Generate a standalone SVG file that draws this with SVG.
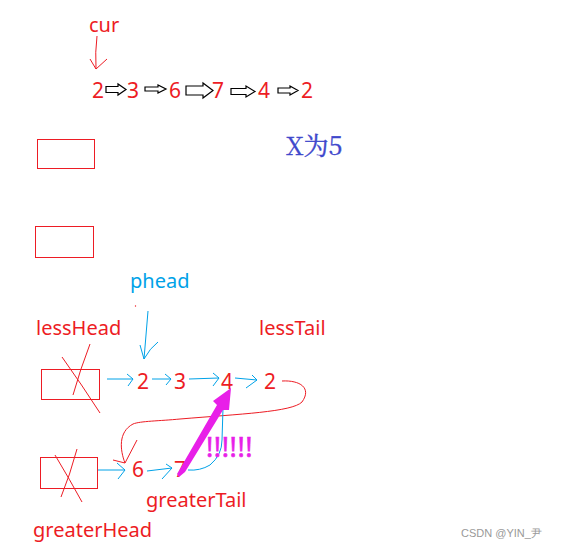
<svg xmlns="http://www.w3.org/2000/svg" width="563" height="548" viewBox="0 0 563 548">
<style>
.t{font-family:"Noto Sans","Liberation Sans",sans-serif;font-size:20px;fill:#ed1c24}
.n{font-family:"Noto Sans","Liberation Sans",sans-serif;font-size:21px;fill:#ed1c24}
.b{font-family:"Noto Sans","Liberation Sans",sans-serif;font-size:20px;fill:#00a2e8}
.blk{fill:#fff;stroke:#000;stroke-width:1.2}
.box{fill:none;stroke:#ed1c24;stroke-width:1}
.rl{fill:none;stroke:#ed1c24;stroke-width:1}
.bl{fill:none;stroke:#00a2e8;stroke-width:1}
</style>
<rect width="563" height="548" fill="#fff"/>

<g id="cur">
<text class="t" x="89" y="32">cur</text>
<path class="rl" d="M97,36 Q95,52 96,69 M90,59 L96,69 L107,59"/>
</g>

<g id="list-top">
<text class="n" x="92" y="98">2</text>
<text class="n" x="127" y="98">3</text>
<text class="n" x="169" y="98">6</text>
<text class="n" x="212" y="98">7</text>
<text class="n" x="258" y="98">4</text>
<text class="n" x="301" y="98">2</text>
<polygon class="blk" points="106,86.5 118,86.5 118,84 126,89.5 118,95 118,92.5 106,92.5"/>
<polygon class="blk" points="145,87 158,87 158,85 166,89 158,93 158,91 145,91"/>
<polygon class="blk" points="186,86 203,86 203,83 213,90.5 203,98 203,95 186,95"/>
<polygon class="blk" points="231,88.5 246,88.5 246,86 255,91.5 246,97 246,94.5 231,94.5"/>
<polygon class="blk" points="278,88 290,88 290,86 298,90.5 290,95 290,93 278,93"/>
</g>

<g id="box1"><rect class="box" x="37.5" y="139.5" width="57" height="29"/></g>
<g id="box2"><rect class="box" x="35.5" y="226.5" width="58" height="31"/></g>

<g id="xlabel">
<text x="286" y="155" font-family="'Noto Serif CJK SC','DejaVu Serif','Liberation Serif',serif" font-size="25" fill="#3f48cc" stroke="#3f48cc" stroke-width="0.4">X为5</text>
</g>

<g id="phead">
<text class="b" x="130" y="288">phead</text>
<path class="bl" d="M148,311 Q146,335 144,359 M140,345 L144,359 Q150,348 158,342"/>
<circle cx="135.5" cy="306" r="0.7" fill="#ed1c24"/>
</g>

<g id="lessHead">
<text class="t" x="36" y="335">lessHead</text>
<rect class="box" x="41.5" y="369.5" width="58" height="30"/>
<path class="rl" d="M90,344 Q80,370 73,395 M62,357 Q82,385 100,413"/>
</g>

<g id="lessTail"><text class="t" x="259" y="335">lessTail</text></g>

<g id="list-less">
<text class="n" x="137" y="389">2</text>
<text class="n" x="174" y="389">3</text>
<text class="n" x="221" y="389">4</text>
<text class="n" x="264" y="389">2</text>
</g>

<g id="greaterHead">
<rect class="box" x="40.5" y="457.5" width="57" height="31"/>
<path class="rl" d="M77,449 Q70,475 61,497 M55,455 Q70,480 82,502"/>
<text class="t" x="33" y="537">greaterHead</text>
</g>

<g id="list-greater">
<text class="n" x="132" y="477">6</text>
<text class="n" x="174" y="477">7</text>
</g>

<g id="greaterTail"><text class="t" x="146" y="507">greaterTail</text></g>

<g id="connectors">
<path class="bl" d="M107,379 L133,379 M127,374 L133,379 L128,386"/>
<path class="bl" d="M152,379 L171,379 M165,374 L171,379 L166,385"/>
<path class="bl" d="M189,379 L219,378 M213,373 L219,378 L213,386"/>
<path class="bl" d="M235,378 L257,380 M252,375 L257,380 L246,388"/>
<path class="rl" d="M282,381 C300,380 312,388 302,402 C292,412 240,414 180,419 C160,421 140,421 133,424 C118,432 120,450 125,463 M137,440 L125,463 L113,460"/>
<path class="bl" d="M98,470 L125,470 M117,463 L125,470 L118,479"/>
<path class="bl" d="M147,471 L172,468 M166,464 L172,468 L162,479"/>
<path class="bl" d="M188,470 Q200,471 210,465 Q222,455 222,440 L223,408"/>
<polygon points="179,477 185,472 223,410 229,410 231,388 213,401 217,405 177,474" fill="#e81fe8"/>
<text x="206" y="457" font-family="'Noto Sans','Liberation Sans',sans-serif" font-size="27" fill="#e81fe8" stroke="#e81fe8" stroke-width="0.6" letter-spacing="0.6">!!!!!!</text>
</g>

<text x="461" y="537" font-family="'Liberation Sans',Arial,sans-serif" font-size="11" fill="#999">CSDN @YIN_尹</text>
</svg>
